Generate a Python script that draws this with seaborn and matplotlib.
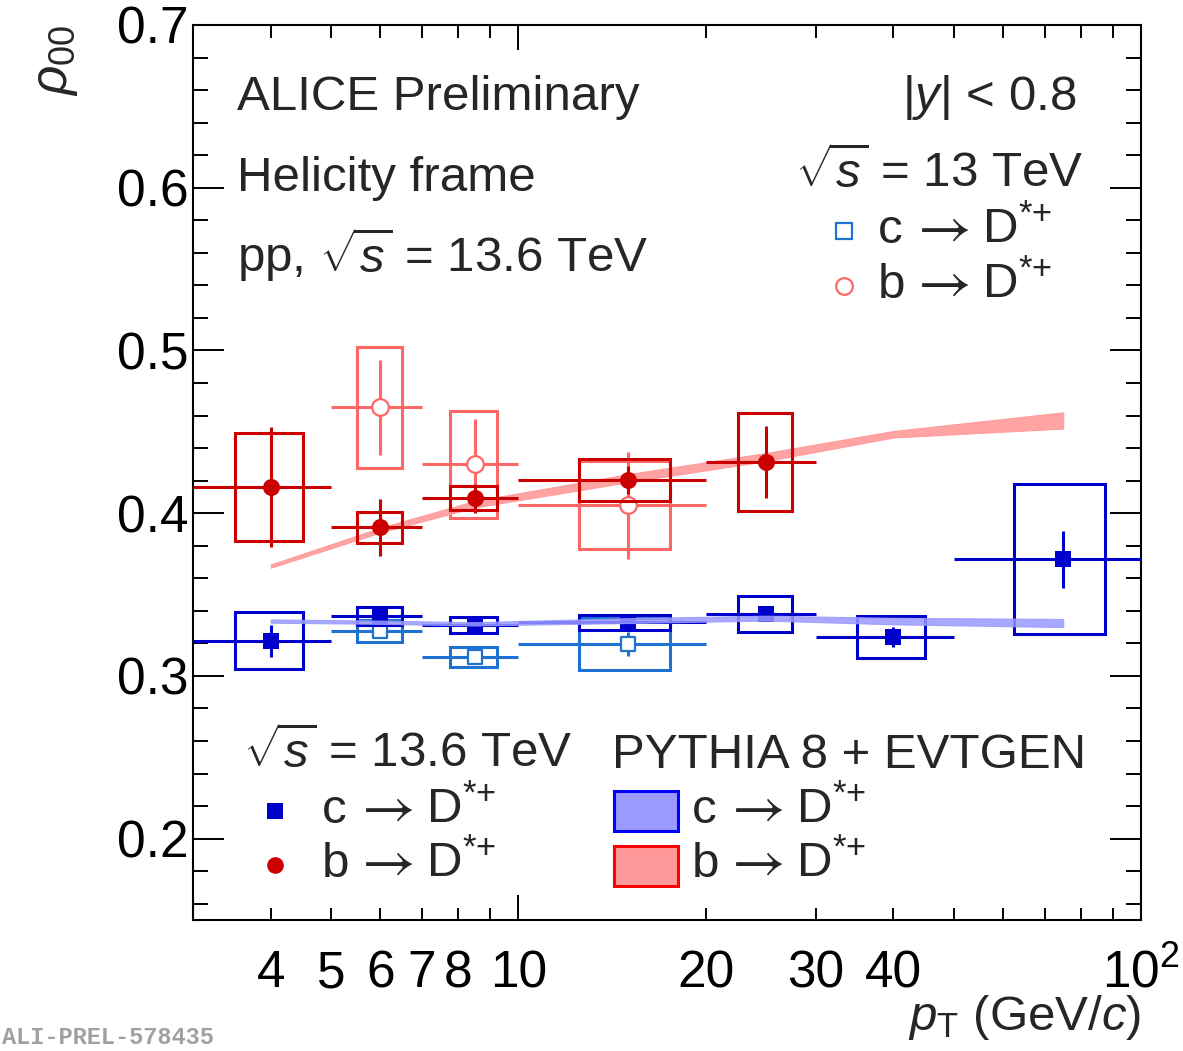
import numpy as np
import pandas as pd
import matplotlib
matplotlib.use("Agg")
import matplotlib.pyplot as plt
import seaborn as sns
from matplotlib.patches import Rectangle
from matplotlib.ticker import FixedLocator, FixedFormatter

# ---------------- data ----------------
# pp 13.6 TeV, prompt (c -> D*+)
c136_pt = [4, 6, 8.5, 15, 25, 40, 75]
c136_lo = [3, 5, 7, 10, 20, 30, 50]
c136_hi = [5, 7, 10, 20, 30, 50, 100]
c136_val = [0.3215, 0.3368, 0.3313, 0.3331, 0.3380, 0.3239, 0.3718]
c136_stat = [0.010, 0.003, 0.003, 0.003, 0.004, 0.006, 0.0175]
c136_syst = [0.0175, 0.0055, 0.005, 0.0046, 0.011, 0.013, 0.046]

# pp 13.6 TeV, non-prompt (b -> D*+)
b136_pt = [4, 6, 8.5, 15, 25]
b136_lo = [3, 5, 7, 10, 20]
b136_hi = [5, 7, 10, 20, 30]
b136_val = [0.416, 0.3914, 0.4092, 0.4202, 0.4313]
b136_stat = [0.037, 0.0175, 0.009, 0.0086, 0.022]
b136_syst = [0.033, 0.0095, 0.0074, 0.013, 0.030]

# pp 13 TeV, prompt and non-prompt
c13_pt = [6, 8.5, 15]
c13_lo = [5, 7, 10]
c13_hi = [7, 10, 20]
c13_val = [0.3276, 0.3117, 0.3196]
c13_stat = [0.003, 0.002, 0.0075]
c13_syst = [0.0068, 0.006, 0.016]

b13_pt = [6, 8.5, 15]
b13_lo = [5, 7, 10]
b13_hi = [7, 10, 20]
b13_val = [0.465, 0.430, 0.4049]
b13_stat = [0.029, 0.028, 0.033]
b13_syst = [0.037, 0.033, 0.027]

# PYTHIA 8 + EVTGEN predictions
pythia_pt = [4, 6, 8.5, 15, 25, 40, 75]
pythia_b = [0.3675, 0.3896, 0.4055, 0.4215, 0.4345, 0.4485, 0.4570]
pythia_b_err = [0.001, 0.0015, 0.002, 0.0025, 0.0025, 0.002, 0.005]
pythia_c = [0.3337, 0.3330, 0.3320, 0.3340, 0.3355, 0.3337, 0.3325]
pythia_c_err = [0.001, 0.001, 0.001, 0.0015, 0.0015, 0.002, 0.0025]

x_major = [10, 100]
x_major_labels = ["10", r"$10^{2}$"]
x_minor = [4, 5, 6, 7, 8, 9, 20, 30, 40, 50, 60, 70, 80, 90]
x_minor_labels = ["4", "5", "6", "7", "8", "", "20", "30", "40", "", "", "", "", ""]
y_major = [0.2, 0.3, 0.4, 0.5, 0.6, 0.7]
y_major_labels = ["0.2", "0.3", "0.4", "0.5", "0.6", "0.7"]

# ---------------- colours ----------------
C_DARKBLUE = "#0000CC"
C_DARKRED = "#CC0000"
C_LIGHTBLUE = "#1E73D2"
C_LIGHTRED = "#FF6666"
C_BAND_BLUE = "#9999FF"
C_BAND_RED = "#FF9999"

# ---------------- style ----------------
sns.set_theme(style="ticks")
plt.rcParams["font.family"] = ["Liberation Sans", "DejaVu Sans"]
plt.rcParams["mathtext.fontset"] = "custom"
plt.rcParams["mathtext.rm"] = "Liberation Sans"
plt.rcParams["mathtext.it"] = "Liberation Sans:italic"
plt.rcParams["mathtext.bf"] = "Liberation Sans:bold"

W, H = 1183, 1051
FS = 35.5
fig = plt.figure(figsize=(W / 100, H / 100), dpi=100)
fig.patch.set_facecolor("white")
ax = fig.add_axes([193 / W, 131 / H, 948 / W, 895 / H])
ax.set_facecolor("white")
ax.set_xscale("log")
ax.set_xlim(3, 100)
ax.set_ylim(0.15, 0.7)

LW = 2.2


def draw_series(pt, lo, hi, val, stat, syst, color, marker, size, filled, zb):
    pt = np.asarray(pt, float)
    lo = np.asarray(lo, float)
    hi = np.asarray(hi, float)
    val = np.asarray(val, float)
    # systematic boxes: a quarter of the bin width on each side
    for p, l, h, v, s in zip(pt, lo, hi, val, syst):
        hw = (h - l) / 4.0
        ax.add_patch(Rectangle((p - hw, v - s), 2 * hw, 2 * s, fill=False,
                               edgecolor=color, linewidth=LW, zorder=zb))
    ax.errorbar(pt, val, xerr=[pt - lo, hi - pt], yerr=stat, fmt="none",
                ecolor=color, elinewidth=LW, capsize=0, zorder=zb + 0.1)
    df = pd.DataFrame({"pt": pt, "val": val})
    sns.scatterplot(data=df, x="pt", y="val", ax=ax, marker=marker, s=size,
                    color=("white" if not filled else color),
                    edgecolor=color, linewidth=(1.6 if not filled else 0),
                    zorder=zb + 0.2, legend=False)


# PYTHIA bands
band = pd.DataFrame({"pt": pythia_pt, "b": pythia_b, "bE": pythia_b_err,
                     "c": pythia_c, "cE": pythia_c_err})
ax.fill_between(band["pt"], band["b"] - band["bE"], band["b"] + band["bE"],
                color=C_BAND_RED, linewidth=0.8, edgecolor=C_BAND_RED,
                alpha=0.9, zorder=3)
ax.fill_between(band["pt"], band["c"] - band["cE"], band["c"] + band["cE"],
                color=C_BAND_BLUE, linewidth=0.8, edgecolor=C_BAND_BLUE,
                alpha=0.85, zorder=6)

# 13 TeV (open markers)
draw_series(c13_pt, c13_lo, c13_hi, c13_val, c13_stat, c13_syst,
            C_LIGHTBLUE, "s", 110, False, 2)
draw_series(b13_pt, b13_lo, b13_hi, b13_val, b13_stat, b13_syst,
            C_LIGHTRED, "o", 144, False, 2)
# 13.6 TeV (full markers)
draw_series(c136_pt, c136_lo, c136_hi, c136_val, c136_stat, c136_syst,
            C_DARKBLUE, "s", 121, True, 4)
draw_series(b136_pt, b136_lo, b136_hi, b136_val, b136_stat, b136_syst,
            C_DARKRED, "o", 150, True, 4)

# ---------------- axes / ticks ----------------
ax.xaxis.set_major_locator(FixedLocator(x_major))
ax.xaxis.set_major_formatter(FixedFormatter(x_major_labels))
ax.xaxis.set_minor_locator(FixedLocator(x_minor))
ax.xaxis.set_minor_formatter(FixedFormatter(x_minor_labels))
ax.yaxis.set_major_locator(FixedLocator(y_major))
ax.yaxis.set_major_formatter(FixedFormatter(y_major_labels))
ax.yaxis.set_minor_locator(FixedLocator(np.arange(0.16, 0.70, 0.02)))

ax.tick_params(axis="both", which="both", direction="in", top=True, right=True,
               width=1.4, color="black", labelcolor="black", labelsize=37)
ax.tick_params(axis="x", which="major", length=18, pad=21)
ax.tick_params(axis="x", which="minor", length=9, pad=21)
ax.tick_params(axis="y", which="major", length=22, pad=3)
ax.tick_params(axis="y", which="minor", length=11, pad=3)
for sp in ax.spines.values():
    sp.set_linewidth(1.5)
    sp.set_color("black")
ax.set_xlabel("")
ax.set_ylabel("")


def ftext(px, py, s, ha="left", va="baseline", size=FS, **kw):
    fig.text(px / W, 1 - py / H, s, ha=ha, va=va, fontsize=size, **kw)


def fmark(px, py, marker, size, face, edge, mew):
    ax.plot([px / W], [1 - py / H], transform=fig.transFigure, marker=marker,
            markersize=size, markerfacecolor=face, markeredgecolor=edge,
            markeredgewidth=mew, linestyle="none", clip_on=False, zorder=10)


def decay_label(px, py, quark):
    # "q -> D*+" written as three pieces so the arrow gets a long, thin glyph
    ftext(px, py, quark)
    ftext(px + 61, py + 1, r"$\rightarrow$", ha="center", size=42,
          math_fontfamily="stix")
    ftext(px + 104, py, r"D$^{*{+}}$")


# axis titles
ftext(1141, 1030, r"$p_{\mathrm{T}}$ (GeV/$c$)", ha="right", size=FS)
fig.text(56 / W, 1 - 25 / H, r"$\rho_{\mathrm{00}}$", rotation=90,
         ha="center", va="top", fontsize=37)

# header texts
ftext(237, 110, "ALICE Preliminary")
ftext(237, 191, "Helicity frame")
ftext(237, 272, r"pp, $\sqrt{s}$ = 13.6 TeV")
ftext(1077, 110, r"|$y$| < 0.8", ha="right")
ftext(1083, 188, r"$\sqrt{s}$ = 13 TeV", ha="right")

# 13 TeV legend
fmark(844, 231, "s", 11, "white", C_LIGHTBLUE, 1.6)
decay_label(878, 243, "c")
fmark(844, 286, "o", 12, "white", C_LIGHTRED, 1.6)
decay_label(878, 298, "b")

# 13.6 TeV legend
ftext(243, 768, r"$\sqrt{s}$ = 13.6 TeV")
fmark(275, 811, "s", 11, C_DARKBLUE, C_DARKBLUE, 0)
decay_label(322, 823, "c")
fmark(275, 865, "o", 12, C_DARKRED, C_DARKRED, 0)
decay_label(322, 877, "b")

# PYTHIA legend
ftext(612, 768, "PYTHIA 8 + EVTGEN")
for (y0, fc, ec) in [(791, C_BAND_BLUE, "#0000FF"), (846, C_BAND_RED, "#FF0000")]:
    fig.add_artist(Rectangle((614 / W, 1 - (y0 + 40) / H), 64 / W, 40 / H,
                             transform=fig.transFigure, facecolor=fc,
                             edgecolor=ec, linewidth=2.2))
decay_label(692, 823, "c")
decay_label(692, 877, "b")

# preliminary figure tag
fig.text(2 / W, 1 - 1049 / H, "ALI-PREL-578435", ha="left", va="bottom",
         fontsize=17, family=["Liberation Mono", "DejaVu Sans Mono"],
         fontweight="bold", color="#A0A0A0")

fig.savefig("out.png", dpi=100, facecolor="white")
